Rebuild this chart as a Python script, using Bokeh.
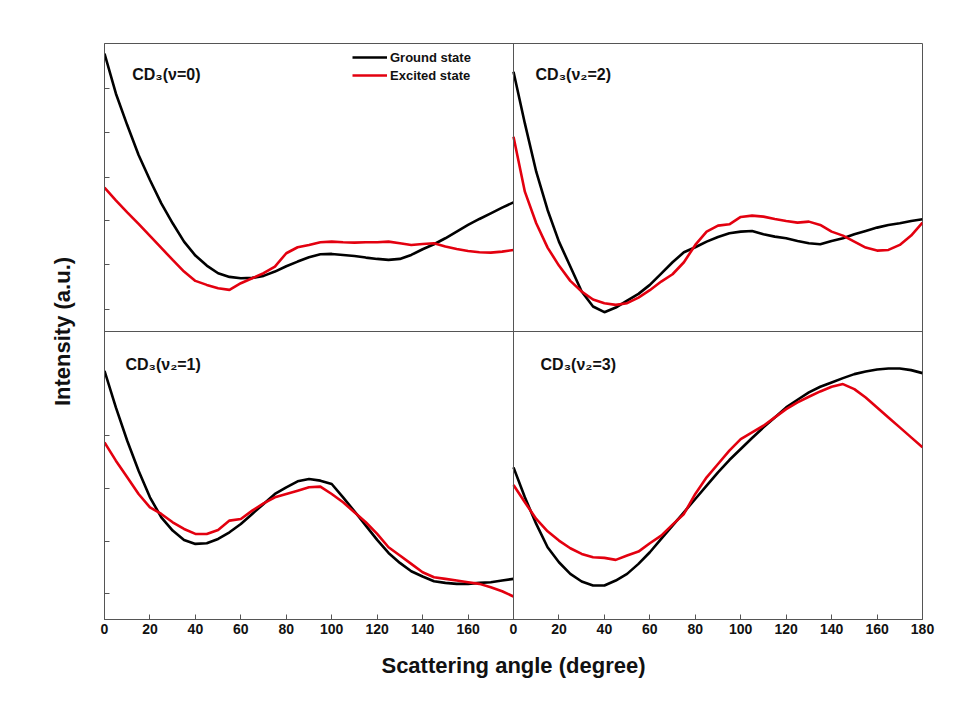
from bokeh.plotting import figure
from bokeh.models import Range1d, FixedTicker, Span, Label, Legend, LegendItem
from bokeh.embed import file_html
from bokeh.resources import INLINE

# Scattering angle (degree), shared by all curves
angle = list(range(0, 181, 5))

# CD3(v=0)  (top-left)
v0_ground = [83.5, 71.5, 62.0, 53.0, 45.5, 38.5, 32.5, 27.0, 22.8, 19.8, 17.5, 16.4, 16.0, 16.1,
             16.7, 18.0, 19.6, 21.0, 22.3, 23.2, 23.3, 23.0, 22.7, 22.2, 21.8, 21.5, 21.8, 23.0,
             24.7, 26.2, 28.0, 30.0, 32.0, 33.8, 35.5, 37.2, 38.8]
v0_excited = [43.2, 39.4, 35.8, 32.3, 28.7, 25.1, 21.5, 18.0, 15.2, 14.0, 13.0, 12.5, 14.5, 16.0,
              17.5, 19.5, 23.5, 25.3, 26.0, 26.8, 27.0, 26.8, 26.7, 26.8, 26.8, 27.0, 26.5, 26.0,
              26.3, 26.5, 25.5, 24.8, 24.2, 23.8, 23.7, 24.0, 24.5]

# CD3(v2=2)  (top-right)
v2_2_ground = [78.0, 62.5, 48.0, 36.5, 27.0, 19.5, 12.0, 7.5, 5.8, 7.2, 9.3, 11.3, 14.0, 17.4,
               20.8, 23.8, 25.3, 27.0, 28.4, 29.5, 30.0, 30.2, 29.2, 28.5, 28.0, 27.2, 26.5, 26.2,
               27.2, 28.0, 29.2, 30.2, 31.2, 32.0, 32.5, 33.2, 33.7]
v2_2_excited = [58.5, 42.0, 32.5, 25.2, 19.8, 15.2, 12.0, 9.6, 8.5, 8.0, 8.5, 10.2, 12.4, 15.0,
                17.2, 20.8, 26.0, 30.0, 31.8, 32.2, 34.4, 34.8, 34.5, 33.8, 33.2, 32.7, 33.0, 32.0,
                30.0, 28.8, 27.0, 25.2, 24.3, 24.5, 26.0, 28.8, 32.7]

# CD3(v2=1)  (bottom-left)
v2_1_ground = [74.7, 63.7, 53.7, 44.7, 36.7, 30.7, 26.7, 23.9, 22.7, 22.9, 24.2, 26.2, 28.7, 31.7,
               34.7, 37.7, 39.7, 41.5, 42.2, 41.7, 40.7, 36.7, 32.5, 28.2, 23.9, 20.0, 17.0, 14.5,
               12.9, 11.5, 11.0, 10.7, 10.7, 11.0, 11.2, 11.7, 12.2]
v2_1_excited = [53.2, 47.7, 42.7, 37.7, 33.7, 31.7, 29.2, 27.2, 25.7, 25.7, 26.9, 29.7, 30.2, 32.7,
                34.9, 36.7, 37.7, 38.7, 39.7, 39.9, 37.7, 35.2, 32.2, 29.2, 25.7, 21.7, 19.2, 16.7,
                14.2, 12.7, 12.2, 11.7, 11.2, 10.7, 9.7, 8.5, 6.9]

# CD3(v2=3)  (bottom-right)
v2_3_ground = [45.7, 36.7, 28.7, 21.7, 17.2, 13.7, 11.4, 10.2, 10.2, 11.7, 13.7, 16.7, 20.2, 24.2,
               28.2, 32.2, 36.2, 40.2, 44.2, 47.9, 51.2, 54.5, 57.7, 60.7, 63.7, 66.0, 68.2, 69.9,
               71.2, 72.5, 73.7, 74.5, 75.1, 75.4, 75.4, 74.9, 74.0]
v2_3_excited = [40.4, 35.2, 30.2, 26.5, 23.7, 21.4, 19.7, 18.7, 18.5, 17.9, 19.2, 20.4, 22.9, 25.2,
                28.5, 31.7, 37.7, 42.7, 46.7, 50.7, 54.2, 56.2, 58.2, 60.7, 63.2, 65.2, 66.9, 68.5,
                69.9, 70.7, 69.2, 66.7, 63.7, 60.7, 57.7, 54.7, 51.7]

panel_titles = ["CD\u2083(\u03bd=0)", "CD\u2083(\u03bd\u2082=2)", "CD\u2083(\u03bd\u2082=1)", "CD\u2083(\u03bd\u2082=3)"]
series_names = ["Ground state", "Excited state"]

# x axis: two panels side by side, each 0..180
x_tick_positions = list(range(0, 361, 20))
x_tick_labels = ["0", "20", "40", "60", "80", "100", "120", "140", "160",
                 "0", "20", "40", "60", "80", "100", "120", "140", "160", "180"]
y_tick_marks = [7.8, 23.4, 39.3, 55.2, 93.0, 106.5, 119.7, 132.9, 146.4, 159.6]

FONT = "Liberation Sans"
EDGE = "#555555"
BLACK = "#000000"
RED = "#e3000f"

p = figure(frame_width=818, frame_height=576,
           min_border_left=104, min_border_right=16, min_border_top=43, min_border_bottom=75,
           x_range=Range1d(0, 360), y_range=Range1d(0, 173),
           output_backend="svg", toolbar_location=None)
p.extra_x_ranges = {"right": Range1d(-180, 180)}
p.extra_y_ranges = {"top": Range1d(-86.5, 86.5)}

p.background_fill_color = "#ffffff"
p.border_fill_color = "#ffffff"
p.outline_line_color = EDGE
p.outline_line_width = 1
p.xgrid.visible = False
p.ygrid.visible = False

# axes
xa = p.xaxis[0]
xa.ticker = FixedTicker(ticks=x_tick_positions)
xa.major_label_overrides = {pos: lab for pos, lab in zip(x_tick_positions, x_tick_labels)}
xa.major_tick_in = 5
xa.major_tick_out = 0
xa.minor_tick_in = 0
xa.minor_tick_out = 0
xa.axis_line_color = EDGE
xa.major_tick_line_color = EDGE
xa.major_label_text_font = FONT
xa.major_label_text_font_style = "bold"
xa.major_label_text_font_size = "14px"
xa.major_label_text_color = "#111111"
xa.major_label_standoff = 4
xa.axis_label = "Scattering angle (degree)"
xa.axis_label_text_font = FONT
xa.axis_label_text_font_style = "bold"
xa.axis_label_text_font_size = "22px"
xa.axis_label_text_color = "#111111"
xa.axis_label_standoff = 16

ya = p.yaxis[0]
ya.ticker = FixedTicker(ticks=[], minor_ticks=y_tick_marks)
ya.major_tick_in = 0
ya.major_tick_out = 0
ya.minor_tick_in = 5
ya.minor_tick_out = 0
ya.axis_line_color = EDGE
ya.minor_tick_line_color = EDGE
ya.major_label_standoff = 0
ya.axis_label = "Intensity (a.u.)"
ya.axis_label_text_font = FONT
ya.axis_label_text_font_style = "bold"
ya.axis_label_text_font_size = "22px"
ya.axis_label_text_color = "#111111"
ya.axis_label_standoff = 30

# panel separators
p.add_layout(Span(location=180, dimension="height", line_color=EDGE, line_width=1))
p.add_layout(Span(location=86.5, dimension="width", line_color=EDGE, line_width=1))

LW = 2.6
# top-left
g0 = p.line(angle, v0_ground, y_range_name="top", line_color=BLACK, line_width=LW)
e0 = p.line(angle, v0_excited, y_range_name="top", line_color=RED, line_width=LW)
# top-right
p.line(angle, v2_2_ground, x_range_name="right", y_range_name="top", line_color=BLACK, line_width=LW)
p.line(angle, v2_2_excited, x_range_name="right", y_range_name="top", line_color=RED, line_width=LW)
# bottom-left
p.line(angle, v2_1_ground, line_color=BLACK, line_width=LW)
p.line(angle, v2_1_excited, line_color=RED, line_width=LW)
# bottom-right
p.line(angle, v2_3_ground, x_range_name="right", line_color=BLACK, line_width=LW)
p.line(angle, v2_3_excited, x_range_name="right", line_color=RED, line_width=LW)

# panel titles
title_specs = [
    (12.2, 77.2, "default", "top"),
    (9.7, 77.2, "right", "top"),
    (9.2, 76.5, "default", "default"),
    (11.9, 76.5, "right", "default"),
]
for text, (tx, ty, xr, yr) in zip(panel_titles, title_specs):
    p.add_layout(Label(x=tx, y=ty, x_range_name=xr, y_range_name=yr, text=text,
                       text_font=FONT, text_font_style="bold", text_font_size="16px",
                       text_color="#111111", text_baseline="middle", text_align="left"))

legend = Legend(items=[LegendItem(label=series_names[0], renderers=[g0]),
                       LegendItem(label=series_names[1], renderers=[e0])],
                location=(248, 535))
legend.padding = 0
legend.margin = 0
legend.spacing = 0
legend.label_height = 18
legend.glyph_height = 18
legend.glyph_width = 35
legend.label_standoff = 3
legend.label_text_font = FONT
legend.label_text_font_style = "bold"
legend.label_text_font_size = "13px"
legend.label_text_color = "#111111"
legend.background_fill_alpha = 0
legend.border_line_alpha = 0
p.add_layout(legend)

open("out.html", "w").write(file_html(p, INLINE))
